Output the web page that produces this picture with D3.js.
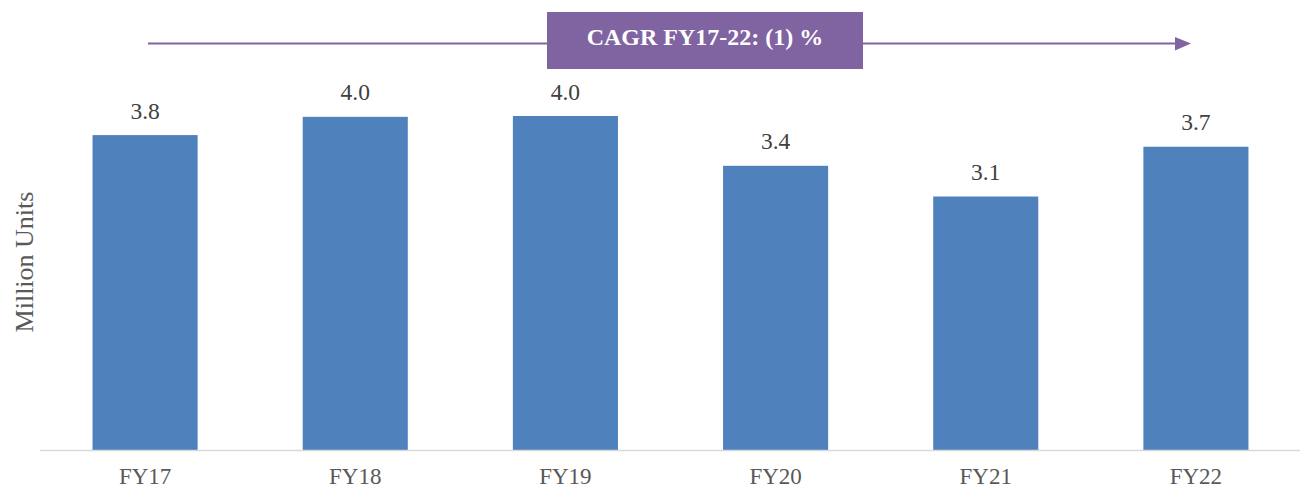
<!DOCTYPE html>
<html>
<head>
<meta charset="utf-8">
<script src="https://cdn.jsdelivr.net/npm/d3@7"></script>
<style>
  body { margin: 0; background: #fff; }
  text { font-family: "Liberation Serif", "Times New Roman", serif; }
</style>
</head>
<body>
<script>
// chart data
var years = ["FY17", "FY18", "FY19", "FY20", "FY21", "FY22"];
var units = [3.80, 4.02, 4.03, 3.43, 3.06, 3.66];
var cagrLabel = "CAGR FY17-22: (1) %";
var yTitle = "Million Units";

var w = 1306;
var h = 489;
var baseline = 450.5;

var svg = d3.select("body")
    .append("svg")
    .attr("width", w)
    .attr("height", h);

var xScale = d3.scaleBand()
    .domain(years)
    .range([40, 1301])
    .paddingInner(0.5)
    .paddingOuter(0.25);

var yScale = d3.scaleLinear()
    .domain([0, 5])
    .range([baseline, 35.5]);

var fmt = d3.format(".1f");

// bars
svg.selectAll("rect.bar")
    .data(units)
    .enter()
    .append("rect")
    .attr("class", "bar")
    .attr("x", function(d, i){ return xScale(years[i]); })
    .attr("y", function(d){ return yScale(d); })
    .attr("width", xScale.bandwidth())
    .attr("height", function(d){ return baseline - yScale(d); })
    .style("fill", "#4F81BD");

// value labels
svg.selectAll("text.val")
    .data(units)
    .enter()
    .append("text")
    .attr("class", "val")
    .attr("x", function(d, i){ return xScale(years[i]) + xScale.bandwidth() / 2; })
    .attr("y", function(d){ return yScale(d) - 16.5; })
    .attr("text-anchor", "middle")
    .style("font-size", "23.5px")
    .style("fill", "#404040")
    .text(function(d){ return fmt(d); });

// x axis
var xAxis = svg.append("g")
    .attr("transform", "translate(0," + baseline + ")")
    .call(d3.axisBottom(xScale).tickSize(0).tickPadding(0));
xAxis.select(".domain")
    .attr("d", "M40,0H1300")
    .style("stroke", "#d9d9d9")
    .style("stroke-width", 1.5);
xAxis.selectAll("text")
    .attr("dy", null)
    .attr("y", 33)
    .style("font-family", "Liberation Serif, serif")
    .style("font-size", "23px")
    .style("fill", "#595959");

// y title
svg.append("text")
    .attr("transform", "translate(33,262) rotate(-90)")
    .attr("text-anchor", "middle")
    .style("font-size", "26px")
    .style("fill", "#595959")
    .text(yTitle);

// CAGR arrow
var purple = "#8064A2";
svg.append("line")
    .attr("x1", 148)
    .attr("x2", 1177)
    .attr("y1", 43.5)
    .attr("y2", 43.5)
    .style("stroke", purple)
    .style("stroke-width", 2);
svg.append("path")
    .attr("d", "M1175,37 L1191,43.5 L1175,50.5 Z")
    .style("fill", purple);

svg.append("rect")
    .attr("x", 547)
    .attr("y", 12)
    .attr("width", 316)
    .attr("height", 57)
    .style("fill", purple);

svg.append("text")
    .attr("x", 705)
    .attr("y", 45)
    .attr("text-anchor", "middle")
    .style("font-size", "24px")
    .style("font-weight", "bold")
    .style("fill", "#fff")
    .text(cagrLabel);
</script>
</body>
</html>
